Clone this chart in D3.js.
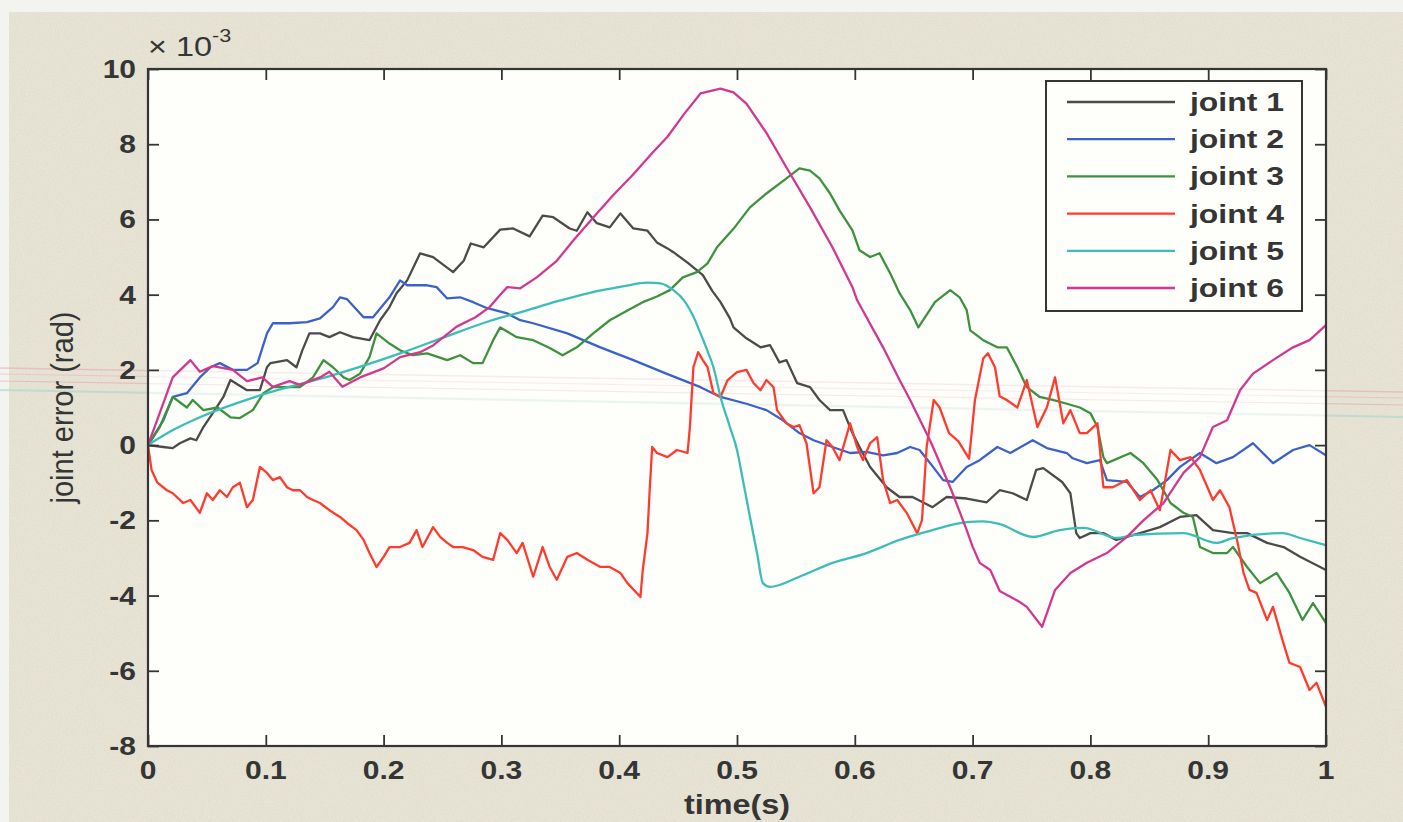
<!DOCTYPE html>
<html>
<head>
<meta charset="utf-8">
<script src="https://cdn.jsdelivr.net/npm/d3@7"></script>
<style>
  html, body { margin: 0; padding: 0; background: #f5f5f1; }
  svg { display: block; }
</style>
</head>
<body>
<svg id="chart" width="1403" height="822"></svg>
<script>
// ---- axis ticks -------------------------------------------------------
const xTicks = [0, 0.1, 0.2, 0.3, 0.4, 0.5, 0.6, 0.7, 0.8, 0.9, 1];
const xTickLabels = ["0", "0.1", "0.2", "0.3", "0.4", "0.5", "0.6", "0.7", "0.8", "0.9", "1"];
const yTicks = [-8, -6, -4, -2, 0, 2, 4, 6, 8, 10];
const yTickLabels = ["-8", "-6", "-4", "-2", "0", "2", "4", "6", "8", "10"];

// ---- series: [time (s), joint error (x 1e-3 rad)] ----------------------
const seriesNames = ["joint 1", "joint 2", "joint 3", "joint 4", "joint 5", "joint 6"];
const seriesColors = ["#4b4b4b", "#3b62c8", "#3e923f", "#ff3b2f", "#3dbdb7", "#d2388f"];

const joint1 = [[0,0],[0.013,-0.05],[0.021,-0.08],[0.027,0.05],[0.036,0.18],[0.041,0.13],[0.047,0.48],[0.055,0.85],[0.064,1.28],[0.07,1.73],[0.084,1.46],[0.095,1.46],[0.101,2.07],[0.104,2.18],[0.118,2.26],[0.126,2.07],[0.131,2.52],[0.137,2.97],[0.146,2.97],[0.154,2.87],[0.163,3.0],[0.174,2.87],[0.188,2.79],[0.197,3.32],[0.205,3.67],[0.211,4.04],[0.22,4.38],[0.231,5.1],[0.242,5.0],[0.259,4.6],[0.268,4.9],[0.274,5.36],[0.285,5.26],[0.299,5.73],[0.31,5.76],[0.324,5.55],[0.335,6.1],[0.344,6.06],[0.358,5.76],[0.364,5.7],[0.373,6.19],[0.381,5.9],[0.392,5.79],[0.401,6.16],[0.412,5.76],[0.424,5.7],[0.432,5.39],[0.441,5.23],[0.446,5.13],[0.458,4.85],[0.471,4.52],[0.479,4.1],[0.486,3.8],[0.494,3.37],[0.497,3.13],[0.508,2.84],[0.52,2.6],[0.528,2.66],[0.536,2.2],[0.542,2.26],[0.551,1.65],[0.562,1.54],[0.57,1.2],[0.579,0.93],[0.59,0.93],[0.598,0.32],[0.604,-0.05],[0.613,-0.58],[0.627,-1.12],[0.638,-1.38],[0.649,-1.38],[0.666,-1.65],[0.678,-1.38],[0.695,-1.42],[0.712,-1.52],[0.723,-1.2],[0.734,-1.28],[0.746,-1.46],[0.754,-0.66],[0.76,-0.61],[0.776,-0.98],[0.783,-1.28],[0.788,-2.34],[0.791,-2.47],[0.8,-2.34],[0.811,-2.34],[0.822,-2.52],[0.842,-2.34],[0.859,-2.18],[0.876,-1.91],[0.89,-1.86],[0.904,-2.26],[0.921,-2.34],[0.933,-2.34],[0.95,-2.6],[0.964,-2.71],[0.978,-2.97],[1.0,-3.32]];

const joint2 = [[0,0],[0.013,0.66],[0.021,1.28],[0.033,1.38],[0.044,1.8],[0.053,2.07],[0.061,2.18],[0.072,2.0],[0.084,2.0],[0.093,2.18],[0.101,2.97],[0.106,3.24],[0.12,3.24],[0.135,3.27],[0.146,3.37],[0.157,3.67],[0.163,3.93],[0.169,3.88],[0.183,3.4],[0.191,3.4],[0.205,3.93],[0.214,4.38],[0.22,4.25],[0.237,4.25],[0.245,4.2],[0.254,3.9],[0.265,3.93],[0.276,3.8],[0.288,3.64],[0.305,3.5],[0.316,3.32],[0.327,3.24],[0.356,2.97],[0.384,2.6],[0.412,2.26],[0.44,1.9],[0.469,1.54],[0.486,1.28],[0.508,1.1],[0.525,0.93],[0.539,0.66],[0.553,0.32],[0.565,0.13],[0.581,-0.05],[0.596,-0.21],[0.61,-0.18],[0.624,-0.27],[0.636,-0.21],[0.647,-0.05],[0.655,-0.13],[0.664,-0.48],[0.675,-0.93],[0.683,-0.98],[0.695,-0.58],[0.706,-0.4],[0.721,-0.05],[0.732,-0.21],[0.751,0.13],[0.763,-0.08],[0.78,-0.21],[0.785,-0.35],[0.797,-0.48],[0.808,-0.4],[0.814,-0.93],[0.831,-0.98],[0.842,-1.38],[0.853,-1.2],[0.865,-0.93],[0.876,-0.58],[0.893,-0.21],[0.907,-0.48],[0.921,-0.32],[0.938,0.05],[0.955,-0.48],[0.972,-0.13],[0.986,0],[1.0,-0.27]];

const joint3 = [[0,0],[0.01,0.48],[0.021,1.28],[0.033,1.0],[0.038,1.2],[0.047,0.93],[0.059,1.0],[0.07,0.74],[0.078,0.72],[0.089,0.93],[0.098,1.38],[0.106,1.54],[0.118,1.54],[0.129,1.54],[0.14,1.8],[0.149,2.26],[0.157,2.07],[0.166,1.8],[0.171,1.73],[0.18,1.9],[0.188,2.34],[0.194,2.97],[0.205,2.7],[0.214,2.52],[0.225,2.39],[0.237,2.44],[0.254,2.26],[0.265,2.39],[0.276,2.18],[0.284,2.18],[0.293,2.79],[0.299,3.13],[0.313,2.87],[0.327,2.79],[0.341,2.58],[0.352,2.39],[0.364,2.6],[0.378,2.97],[0.392,3.32],[0.407,3.58],[0.42,3.8],[0.432,3.95],[0.443,4.12],[0.454,4.46],[0.466,4.6],[0.475,4.83],[0.483,5.26],[0.497,5.75],[0.511,6.32],[0.525,6.69],[0.542,7.09],[0.553,7.36],[0.562,7.3],[0.57,7.09],[0.579,6.69],[0.587,6.24],[0.598,5.71],[0.604,5.18],[0.613,5.0],[0.621,5.1],[0.63,4.57],[0.638,4.04],[0.647,3.59],[0.654,3.13],[0.668,3.8],[0.681,4.12],[0.689,3.93],[0.695,3.59],[0.698,3.05],[0.709,2.79],[0.721,2.6],[0.729,2.6],[0.738,2.07],[0.746,1.54],[0.757,1.28],[0.768,1.2],[0.78,1.1],[0.791,1.0],[0.8,0.85],[0.806,0.48],[0.811,-0.32],[0.814,-0.48],[0.834,-0.21],[0.845,-0.48],[0.857,-0.93],[0.868,-1.54],[0.879,-1.8],[0.887,-1.91],[0.893,-2.71],[0.904,-2.87],[0.916,-2.87],[0.921,-2.71],[0.933,-3.24],[0.944,-3.67],[0.958,-3.4],[0.969,-3.93],[0.98,-4.65],[0.989,-4.2],[1.0,-4.73]];

const joint4 = [[0,0],[0.003,-0.66],[0.008,-1.0],[0.016,-1.2],[0.021,-1.28],[0.03,-1.54],[0.036,-1.46],[0.044,-1.8],[0.05,-1.28],[0.055,-1.46],[0.061,-1.2],[0.067,-1.38],[0.072,-1.12],[0.078,-1.0],[0.084,-1.65],[0.089,-1.46],[0.095,-0.58],[0.101,-0.74],[0.106,-0.93],[0.112,-0.85],[0.118,-1.12],[0.123,-1.2],[0.129,-1.2],[0.135,-1.38],[0.14,-1.46],[0.146,-1.54],[0.154,-1.73],[0.163,-1.91],[0.169,-2.07],[0.177,-2.26],[0.183,-2.52],[0.188,-2.87],[0.194,-3.24],[0.2,-2.97],[0.205,-2.71],[0.214,-2.71],[0.222,-2.6],[0.228,-2.26],[0.233,-2.71],[0.242,-2.18],[0.248,-2.44],[0.254,-2.6],[0.259,-2.71],[0.267,-2.71],[0.276,-2.79],[0.284,-2.97],[0.293,-3.05],[0.299,-2.34],[0.305,-2.52],[0.313,-2.87],[0.318,-2.6],[0.327,-3.5],[0.335,-2.71],[0.341,-3.24],[0.347,-3.58],[0.356,-2.97],[0.364,-2.87],[0.373,-3.05],[0.384,-3.24],[0.392,-3.24],[0.401,-3.4],[0.407,-3.67],[0.418,-4.04],[0.42,-3.32],[0.424,-2.34],[0.426,-1.12],[0.428,-0.05],[0.432,-0.21],[0.441,-0.32],[0.449,-0.13],[0.458,-0.21],[0.46,0.48],[0.463,2.07],[0.467,2.47],[0.471,2.26],[0.475,2.07],[0.48,1.38],[0.486,1.28],[0.492,1.73],[0.5,1.94],[0.508,2.0],[0.514,1.65],[0.52,1.46],[0.525,1.73],[0.531,1.54],[0.534,0.93],[0.542,0.58],[0.548,0.48],[0.553,0.53],[0.559,0.05],[0.565,-1.28],[0.57,-1.12],[0.576,0.13],[0.581,-0.05],[0.587,-0.4],[0.596,0.58],[0.602,-0.05],[0.607,-0.4],[0.613,0.05],[0.619,0.21],[0.624,-0.93],[0.63,-1.54],[0.636,-1.46],[0.644,-1.8],[0.653,-2.34],[0.657,-2.0],[0.661,-0.05],[0.667,1.2],[0.672,1.0],[0.68,0.32],[0.688,0.1],[0.697,-0.36],[0.702,1.2],[0.709,2.3],[0.713,2.44],[0.719,2.07],[0.723,1.3],[0.729,1.2],[0.738,1.0],[0.746,1.73],[0.755,0.48],[0.763,1.0],[0.77,1.8],[0.777,0.58],[0.783,0.93],[0.791,0.32],[0.797,0.32],[0.806,0.58],[0.811,-1.12],[0.819,-1.12],[0.831,-0.93],[0.842,-1.46],[0.851,-1.2],[0.859,-1.73],[0.868,-0.13],[0.876,-0.4],[0.885,-0.32],[0.893,-0.66],[0.904,-1.46],[0.91,-1.2],[0.918,-1.65],[0.925,-2.6],[0.93,-3.4],[0.935,-3.85],[0.941,-3.93],[0.95,-4.65],[0.955,-4.3],[0.963,-5.18],[0.969,-5.79],[0.978,-5.9],[0.986,-6.51],[0.992,-6.32],[1.0,-6.96]];

const joint5 = [[0,0],[0.02,0.38],[0.044,0.74],[0.101,1.38],[0.157,1.86],[0.214,2.44],[0.25,2.85],[0.29,3.3],[0.318,3.55],[0.347,3.82],[0.375,4.05],[0.403,4.22],[0.424,4.32],[0.435,4.3],[0.446,4.12],[0.455,3.85],[0.46,3.6],[0.464,3.35],[0.469,2.97],[0.475,2.5],[0.48,2.07],[0.486,1.28],[0.494,0.48],[0.5,-0.13],[0.505,-0.93],[0.511,-1.91],[0.517,-2.87],[0.522,-3.67],[0.528,-3.77],[0.553,-3.5],[0.581,-3.13],[0.61,-2.87],[0.638,-2.52],[0.666,-2.26],[0.695,-2.05],[0.709,-2.03],[0.723,-2.1],[0.751,-2.44],[0.774,-2.26],[0.794,-2.2],[0.823,-2.47],[0.836,-2.39],[0.879,-2.34],[0.907,-2.6],[0.921,-2.47],[0.963,-2.34],[0.978,-2.47],[1.0,-2.66]];

const joint6 = [[0,0],[0.021,1.8],[0.036,2.26],[0.044,1.95],[0.055,2.1],[0.072,2.0],[0.084,1.7],[0.097,1.8],[0.106,1.55],[0.12,1.7],[0.129,1.6],[0.146,1.8],[0.154,1.95],[0.165,1.55],[0.18,1.8],[0.2,2.04],[0.214,2.34],[0.231,2.47],[0.242,2.65],[0.262,3.15],[0.278,3.4],[0.29,3.67],[0.299,4.0],[0.305,4.2],[0.316,4.17],[0.33,4.46],[0.347,4.9],[0.361,5.44],[0.378,6.05],[0.395,6.65],[0.412,7.2],[0.429,7.8],[0.441,8.2],[0.455,8.8],[0.469,9.35],[0.486,9.48],[0.497,9.38],[0.508,9.08],[0.525,8.3],[0.542,7.38],[0.562,6.32],[0.581,5.26],[0.598,4.2],[0.602,3.85],[0.624,2.6],[0.638,1.73],[0.647,1.2],[0.665,0.05],[0.682,-1.2],[0.695,-2.26],[0.70,-2.7],[0.706,-3.13],[0.715,-3.32],[0.723,-3.88],[0.74,-4.17],[0.746,-4.3],[0.759,-4.83],[0.77,-3.85],[0.783,-3.4],[0.797,-3.13],[0.814,-2.87],[0.831,-2.44],[0.845,-2.0],[0.862,-1.54],[0.879,-0.74],[0.893,-0.32],[0.904,0.48],[0.916,0.66],[0.927,1.46],[0.938,1.9],[0.955,2.26],[0.972,2.6],[0.986,2.79],[1.0,3.19]];

const seriesData = [joint1, joint2, joint3, joint4, joint5, joint6];

// ---- layout -----------------------------------------------------------
const W = 1403, H = 822;
const plot = { left: 148, right: 1326, top: 69, bottom: 746 };
const stretch = 1.2;           // glyphs are drawn a little wider than tall
const inkColor = "#353535";
const fontFamily = "'Liberation Sans', Arial, Helvetica, sans-serif";

const svg = d3.select("#chart");
const defs = svg.append("defs");

// subtle paper grain for the figure background
const grain = defs.append("filter").attr("id", "grain").attr("x", 0).attr("y", 0).attr("width", "100%").attr("height", "100%");
grain.append("feTurbulence").attr("type", "fractalNoise").attr("baseFrequency", 0.85).attr("numOctaves", 2).attr("seed", 4).attr("result", "noise");
grain.append("feColorMatrix").attr("type", "matrix")
  .attr("values", "0 0 0 0 0.55  0 0 0 0 0.52  0 0 0 0 0.42  0 0 0 0.35 -0.08");

defs.append("clipPath").attr("id", "plotClip")
  .append("rect")
  .attr("x", plot.left).attr("y", plot.top)
  .attr("width", plot.right - plot.left).attr("height", plot.bottom - plot.top);

// figure background
svg.append("rect").attr("width", W).attr("height", H).attr("fill", "#f3f3ef");
svg.append("rect").attr("x", 9).attr("y", 12).attr("width", W - 9).attr("height", H - 12).attr("fill", "#e9e5d7");
svg.append("rect").attr("x", 9).attr("y", 12).attr("width", W - 9).attr("height", H - 12).attr("filter", "url(#grain)");

// faint coloured streak running across the sheet
const streakLines = [[368, 392, "#e7a9b8", 1.5], [374, 398, "#eab3c0", 1.2], [381, 405, "#e5a3b3", 1.2], [390, 417, "#a9d6cf", 2.2]];
const streak = svg.append("g").attr("opacity", 0.6);
streakLines.forEach(([y0, y1, c, w]) => {
  streak.append("line").attr("x1", 0).attr("x2", W).attr("y1", y0).attr("y2", y1)
    .attr("stroke", c).attr("stroke-width", w);
});

// scales
const x = d3.scaleLinear().domain([0, 1]).range([plot.left, plot.right]);
const y = d3.scaleLinear().domain([-8, 10]).range([plot.bottom, plot.top]);

// axes background
svg.append("rect")
  .attr("x", plot.left).attr("y", plot.top)
  .attr("width", plot.right - plot.left).attr("height", plot.bottom - plot.top)
  .attr("fill", "#fefefa");

// streak shows through faintly on the white axes area
const streakIn = svg.append("g").attr("opacity", 0.22).attr("clip-path", "url(#plotClip)");
streakLines.forEach(([y0, y1, c, w]) => {
  streakIn.append("line").attr("x1", 0).attr("x2", W).attr("y1", y0).attr("y2", y1)
    .attr("stroke", c).attr("stroke-width", w);
});

// ---- series lines -----------------------------------------------------
const line = d3.line().x(d => x(d[0])).y(d => y(d[1]));
const lineSmooth = d3.line().x(d => x(d[0])).y(d => y(d[1])).curve(d3.curveMonotoneX);

const lines = svg.append("g").attr("clip-path", "url(#plotClip)");
seriesData.forEach((data, i) => {
  lines.append("path")
    .datum(data)
    .attr("d", i === 4 ? lineSmooth : line)
    .attr("fill", "none")
    .attr("stroke", seriesColors[i])
    .attr("stroke-width", 2.3)
    .attr("stroke-linejoin", "round")
    .attr("stroke-linecap", "round");
});

// ---- axes box and ticks (ticks point inward, on all four sides) -------
const tickLen = 11;
const axisG = svg.append("g");
axisG.append("g")
  .attr("transform", `translate(0,${plot.bottom})`)
  .call(d3.axisBottom(x).tickValues(xTicks).tickSize(-tickLen).tickFormat(""));
axisG.append("g")
  .attr("transform", `translate(0,${plot.top})`)
  .call(d3.axisTop(x).tickValues(xTicks).tickSize(-tickLen).tickFormat(""));
axisG.append("g")
  .attr("transform", `translate(${plot.left},0)`)
  .call(d3.axisLeft(y).tickValues(yTicks).tickSize(-tickLen).tickFormat(""));
axisG.append("g")
  .attr("transform", `translate(${plot.right},0)`)
  .call(d3.axisRight(y).tickValues(yTicks).tickSize(-tickLen).tickFormat(""));
axisG.selectAll(".domain").remove();
axisG.selectAll(".tick line").attr("stroke", inkColor).attr("stroke-width", 1.8);
axisG.append("rect")
  .attr("x", plot.left).attr("y", plot.top)
  .attr("width", plot.right - plot.left).attr("height", plot.bottom - plot.top)
  .attr("fill", "none").attr("stroke", inkColor).attr("stroke-width", 2.2);

// ---- text helpers ----------------------------------------------------
function stretchedText(parent, px, py, str, size, weight, anchor) {
  return parent.append("text")
    .attr("transform", `translate(${px},${py}) scale(${stretch},1)`)
    .attr("text-anchor", anchor)
    .attr("font-family", fontFamily)
    .attr("font-size", size)
    .attr("font-weight", weight)
    .attr("fill", inkColor)
    .text(str);
}

const labels = svg.append("g");
xTicks.forEach((t, i) => stretchedText(labels, x(t), plot.bottom + 33, xTickLabels[i], 25, "bold", "middle"));
yTicks.forEach((v, i) => stretchedText(labels, plot.left - 12, y(v) + 9, yTickLabels[i], 25, "bold", "end"));

// exponent marker above the y axis
const expo = labels.append("text")
  .attr("transform", `translate(${plot.left},${plot.top - 13}) scale(${stretch},1)`)
  .attr("font-family", fontFamily).attr("font-size", 27).attr("fill", inkColor);
expo.append("tspan").text("\u00d7 10");
expo.append("tspan").attr("font-size", 18).attr("dy", -14).text("-3");

// axis titles
stretchedText(labels, (plot.left + plot.right) / 2, 814, "time(s)", 27, "bold", "middle");
labels.append("text")
  .attr("transform", `translate(73,${(plot.top + plot.bottom) / 2}) scale(${stretch},1) rotate(-90)`)
  .attr("text-anchor", "middle")
  .attr("font-family", fontFamily)
  .attr("font-size", 26)
  .attr("fill", inkColor)
  .attr("textLength", 192)
  .attr("lengthAdjust", "spacingAndGlyphs")
  .text("joint error (rad)");

// ---- legend -----------------------------------------------------------
const legend = svg.append("g");
const lg = { x: 1046, y: 81, w: 256, h: 230, row: 37.2, first: 102 };
legend.append("rect")
  .attr("x", lg.x).attr("y", lg.y).attr("width", lg.w).attr("height", lg.h)
  .attr("fill", "#fefefa").attr("stroke", inkColor).attr("stroke-width", 2);
seriesNames.forEach((name, i) => {
  const ly = lg.first + i * lg.row;
  legend.append("line")
    .attr("x1", 1067).attr("x2", 1175).attr("y1", ly).attr("y2", ly)
    .attr("stroke", seriesColors[i]).attr("stroke-width", 2.3);
  legend.append("text")
    .attr("x", 1190).attr("y", ly + 9)
    .attr("font-family", fontFamily)
    .attr("font-size", 26)
    .attr("font-weight", "bold")
    .attr("fill", inkColor)
    .attr("textLength", 94)
    .attr("lengthAdjust", "spacingAndGlyphs")
    .text(name);
});
</script>
</body>
</html>
